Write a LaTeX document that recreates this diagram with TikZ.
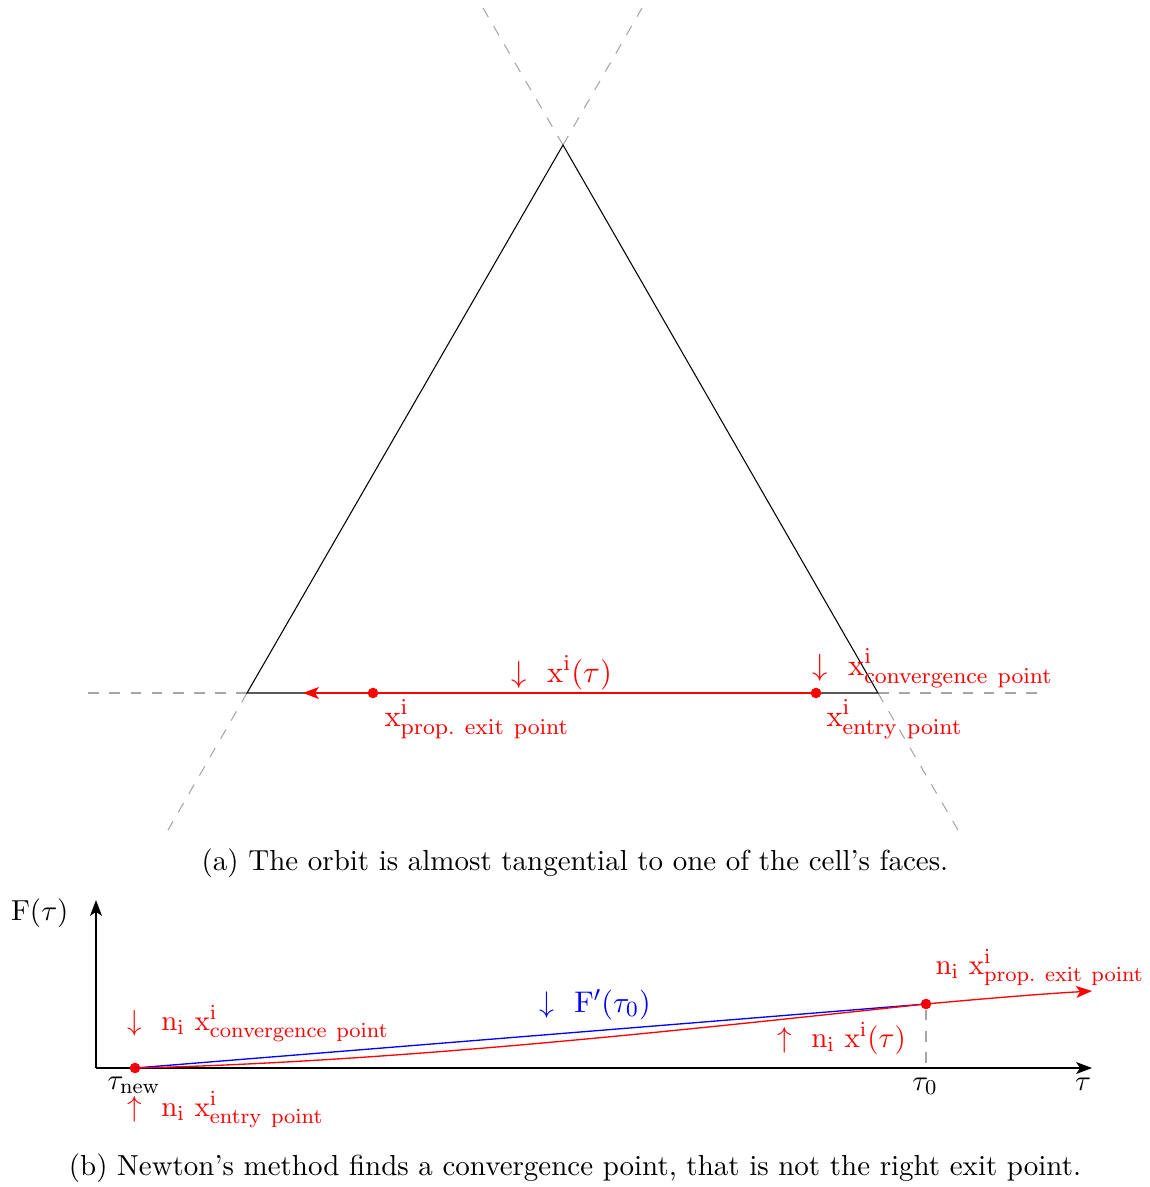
\documentclass[tikz,border=0pt,11pt]{standalone}
\usetikzlibrary{arrows.meta}
\begin{document}
\begin{tikzpicture}[x=0.378pt,y=-0.378pt,
  face/.style={black, line width=0.4pt},
  ext/.style={gray!70, dashed, dash pattern=on 4pt off 4pt, line width=0.4pt},
  orbit/.style={red, line width=0.5pt},
  pt/.style={circle, fill=red, inner sep=0pt, minimum size=4pt},
  lbl/.style={red, inner sep=0pt},
  lbla/.style={red, inner sep=0pt, scale=1.055},
  axis/.style={black, line width=0.5pt, -{Stealth[length=6pt,width=4.5pt,inset=1.5pt]}},
  captext/.style={inner sep=0pt}]
\useasboundingbox (0,0) rectangle (1150,1187);
% ---------- (a) ----------
\coordinate (A) at (563,145);
\coordinate (B) at (247,693);
\coordinate (C) at (878,693);
\coordinate (At1) at (483,8);
\coordinate (At2) at (642,8);
\coordinate (Bl) at (88,693);
\coordinate (Bd) at (168,830);
\coordinate (Cr) at (1040,693);
\coordinate (Cd) at (958,830);
\draw[ext] (A) -- (At1);
\draw[ext] (A) -- (At2);
\draw[ext] (B) -- (Bl);
\draw[ext] (B) -- (Bd);
\draw[ext] (C) -- (Cr);
\draw[ext] (C) -- (Cd);
\draw[face] (A) -- (B) -- (C) -- cycle;
\node[pt] (entry) at (816,693) {};
\node[pt] (exit) at (373,693) {};
\coordinate (tip) at (303,693);
\draw[orbit, -{Stealth[length=6pt,width=4.5pt,inset=1.5pt]}] (entry.center) -- (tip);
\node[lbla, anchor=base west] (lxt) at (511,682) {$\downarrow$~ $\mathrm{x}^{\mathrm{i}}(\tau)$};
\node[lbla, anchor=base west] (lconv) at (812,675) {$\downarrow$~ $\mathrm{x}^{\mathrm{i}}_{\mathrm{convergence\ point}}$};
\node[lbla, anchor=base west] (lentry) at (826,726) {$\mathrm{x}^{\mathrm{i}}_{\mathrm{entry\ point}}$};
\node[lbla, anchor=base west] (lexit) at (384,726) {$\mathrm{x}^{\mathrm{i}}_{\mathrm{prop.\ exit\ point}}$};
\node[captext, anchor=base] (capa) at (575,870) {(a) The orbit is almost tangential to one of the cell's faces.};
% ---------- (b) ----------
\coordinate (O) at (96,1068);
\coordinate (Yend) at (96,900);
\coordinate (Xend) at (1092,1068);
\draw[axis] (O) -- (Yend);
\draw[axis] (O) -- (Xend);
\node[anchor=base east, inner sep=0pt] (lF) at (69,920) {$\mathrm{F}(\tau)$};
\node[anchor=base, inner sep=0pt] (ltau) at (1083,1090) {$\tau$};
\node[pt] (tn) at (135,1068) {};
\node[pt] (t0) at (926,1004) {};
\coordinate (t0ax) at (926,1068);
\coordinate (rend) at (1092,991);
\draw[ext] (t0) -- (t0ax);
\draw[blue, line width=0.5pt] (tn.center) -- (t0.center);
\draw[orbit] (tn.center) .. controls (400,1062) and (700,1028) .. (t0.center);
\draw[orbit, -{Stealth[length=6pt,width=4.5pt,inset=1.5pt]}] (t0.center) .. controls (980,999) and (1040,994) .. (rend);
\node[anchor=base west, inner sep=0pt] (ltn) at (107,1089) {$\tau_{\mathrm{new}}$};
\node[anchor=base, inner sep=0pt] (lt0) at (925,1090) {$\tau_0$};
\node[lbl, anchor=base west] (lbconv) at (127,1030) {$\downarrow$~ $\mathrm{n}_{\mathrm{i}}\ \mathrm{x}^{\mathrm{i}}_{\mathrm{convergence\ point}}$};
\node[lbl, anchor=base west] (lbentry) at (127,1116) {$\uparrow$~ $\mathrm{n}_{\mathrm{i}}\ \mathrm{x}^{\mathrm{i}}_{\mathrm{entry\ point}}$};
\node[blue, inner sep=0pt, anchor=base west, scale=1.03] (lFp) at (539,1012) {$\downarrow$~ $\mathrm{F}'(\tau_0)$};
\node[lbl, anchor=base west] (lbxt) at (777,1047) {$\uparrow$~ $\mathrm{n}_{\mathrm{i}}\ \mathrm{x}^{\mathrm{i}}(\tau)$};
\node[lbl, anchor=base west] (lbexit) at (935,974) {$\mathrm{n}_{\mathrm{i}}\ \mathrm{x}^{\mathrm{i}}_{\mathrm{prop.\ exit\ point}}$};
\node[captext, anchor=base] (capb) at (575,1175) {(b) Newton's method finds a convergence point, that is not the right exit point.};
\end{tikzpicture}
\end{document}
